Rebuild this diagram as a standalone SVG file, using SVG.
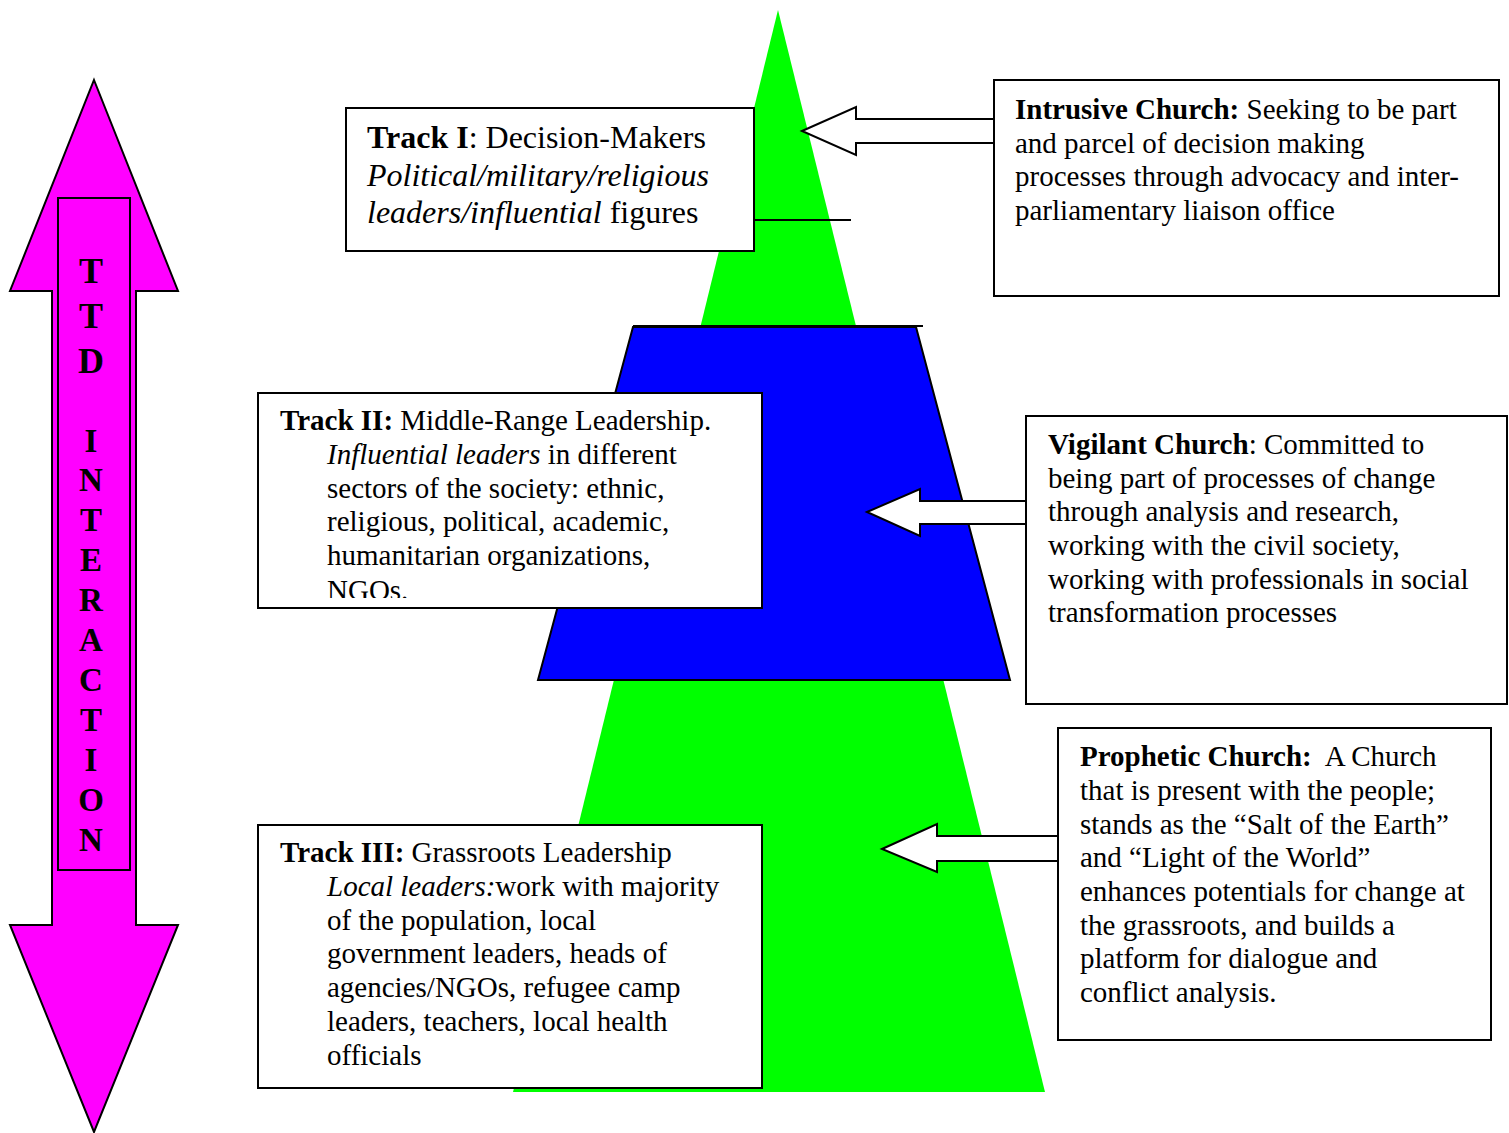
<svg xmlns="http://www.w3.org/2000/svg" width="1509" height="1133" viewBox="0 0 1509 1133">
  <style>
    .box { fill: #ffffff; stroke: #000000; stroke-width: 2; }
    .blk { fill: #ffffff; stroke: #000000; stroke-width: 2; stroke-linejoin: miter; }
    .t { font-family: "Liberation Serif", "Times New Roman", serif; font-size: 29px; fill: #000000; }
    .t1 { font-family: "Liberation Serif", "Times New Roman", serif; font-size: 32px; fill: #000000; }
    .b { font-weight: bold; }
    .i { font-style: italic; }
    .ttd { font-family: "Liberation Serif", "Times New Roman", serif; font-weight: bold; fill: #000000; text-anchor: middle; }
  </style>
  <defs>
    <clipPath id="clip-track2">
      <rect x="258" y="393" width="504" height="205"/>
    </clipPath>
  </defs>

  <rect width="1509" height="1133" fill="#ffffff"/>

  <!-- pyramid -->
  <g id="pyramid">
    <polygon points="778,10 1045,1092 513,1092" fill="#00ff00"/>
    <polygon points="633,327 916,327 1010,680 538,680" fill="#0000ff" stroke="#000000" stroke-width="2"/>
    <line x1="633" y1="326" x2="923" y2="326" stroke="#000000" stroke-width="2"/>
  </g>

  <!-- TTD interaction double arrow -->
  <g id="ttd-interaction">
    <polygon points="94,80 178,291 136,291 136,925 178,925 94,1132 10,925 52,925 52,291 10,291" fill="#ff00ff" stroke="#000000" stroke-width="2"/>
    <rect x="58" y="198" width="72" height="672" fill="#ff00ff" stroke="#000000" stroke-width="2"/>
    <text class="ttd" font-size="36" x="91" y="283">T</text>
    <text class="ttd" font-size="36" x="91" y="328">T</text>
    <text class="ttd" font-size="36" x="91" y="373">D</text>
    <text class="ttd" font-size="33" x="91" y="452">I</text>
    <text class="ttd" font-size="33" x="91" y="491">N</text>
    <text class="ttd" font-size="33" x="91" y="531">T</text>
    <text class="ttd" font-size="33" x="91" y="571">E</text>
    <text class="ttd" font-size="33" x="91" y="611">R</text>
    <text class="ttd" font-size="33" x="91" y="651">A</text>
    <text class="ttd" font-size="33" x="91" y="691">C</text>
    <text class="ttd" font-size="33" x="91" y="731">T</text>
    <text class="ttd" font-size="33" x="91" y="771">I</text>
    <text class="ttd" font-size="33" x="91" y="811">O</text>
    <text class="ttd" font-size="33" x="91" y="851">N</text>
  </g>

  <!-- connectors -->
  <g id="connectors">
    <line x1="754" y1="220" x2="851" y2="220" stroke="#000000" stroke-width="2"/>
    <polygon class="blk" points="802,131 856,107 856,119 994,119 994,143 856,143 856,155"/>
    <polygon class="blk" points="867,512 920,489 920,501 1026,501 1026,524 920,524 920,536"/>
    <polygon class="blk" points="882,849 937,824 937,836 1058,836 1058,861 937,861 937,872"/>
  </g>

  <!-- Track I -->
  <g id="track1">
    <rect class="box" x="346" y="108" width="408" height="143"/>
    <text class="t1" x="367" y="148"><tspan class="b">Track I</tspan>: Decision-Makers</text>
    <text class="t1 i" x="367" y="186">Political/military/religious</text>
    <text class="t1" x="367" y="223"><tspan class="i">leaders/influential</tspan> figures</text>
  </g>

  <!-- Track II -->
  <g id="track2">
    <rect class="box" x="258" y="393" width="504" height="215"/>
    <g clip-path="url(#clip-track2)">
      <text class="t" x="280" y="430"><tspan class="b">Track II:</tspan> Middle-Range Leadership.</text>
      <text class="t" x="327" y="464"><tspan class="i">Influential leaders</tspan> in different</text>
      <text class="t" x="327" y="498">sectors of the society: ethnic,</text>
      <text class="t" x="327" y="531">religious, political, academic,</text>
      <text class="t" x="327" y="565">humanitarian organizations,</text>
      <text class="t" x="327" y="600">NGOs.</text>
    </g>
  </g>

  <!-- Track III -->
  <g id="track3">
    <rect class="box" x="258" y="825" width="504" height="263"/>
    <text class="t" x="280" y="862"><tspan class="b">Track III:</tspan> Grassroots Leadership</text>
    <text class="t" x="327" y="896"><tspan class="i">Local leaders:</tspan>work with majority</text>
    <text class="t" x="327" y="930">of the population, local</text>
    <text class="t" x="327" y="963">government leaders, heads of</text>
    <text class="t" x="327" y="997">agencies/NGOs, refugee camp</text>
    <text class="t" x="327" y="1031">leaders, teachers, local health</text>
    <text class="t" x="327" y="1065">officials</text>
  </g>

  <!-- Intrusive Church -->
  <g id="intrusive-church">
    <rect class="box" x="994" y="80" width="505" height="216"/>
    <text class="t" x="1015" y="119"><tspan class="b">Intrusive Church:</tspan> Seeking to be part</text>
    <text class="t" x="1015" y="153">and parcel of decision making</text>
    <text class="t" x="1015" y="186">processes through advocacy and inter-</text>
    <text class="t" x="1015" y="220">parliamentary liaison office</text>
  </g>

  <!-- Vigilant Church -->
  <g id="vigilant-church">
    <rect class="box" x="1026" y="416" width="481" height="288"/>
    <text class="t" x="1048" y="454"><tspan class="b">Vigilant Church</tspan>: Committed to</text>
    <text class="t" x="1048" y="488">being part of processes of change</text>
    <text class="t" x="1048" y="521">through analysis and research,</text>
    <text class="t" x="1048" y="555">working with the civil society,</text>
    <text class="t" x="1048" y="589">working with professionals in social</text>
    <text class="t" x="1048" y="622">transformation processes</text>
  </g>

  <!-- Prophetic Church -->
  <g id="prophetic-church">
    <rect class="box" x="1058" y="728" width="433" height="312"/>
    <text class="t" x="1080" y="766" style="white-space:pre"><tspan class="b">Prophetic Church:</tspan>  A Church</text>
    <text class="t" x="1080" y="800">that is present with the people;</text>
    <text class="t" x="1080" y="834">stands as the “Salt of the Earth”</text>
    <text class="t" x="1080" y="867">and “Light of the World”</text>
    <text class="t" x="1080" y="901">enhances potentials for change at</text>
    <text class="t" x="1080" y="935">the grassroots, and builds a</text>
    <text class="t" x="1080" y="968">platform for dialogue and</text>
    <text class="t" x="1080" y="1002">conflict analysis.</text>
  </g>
</svg>
